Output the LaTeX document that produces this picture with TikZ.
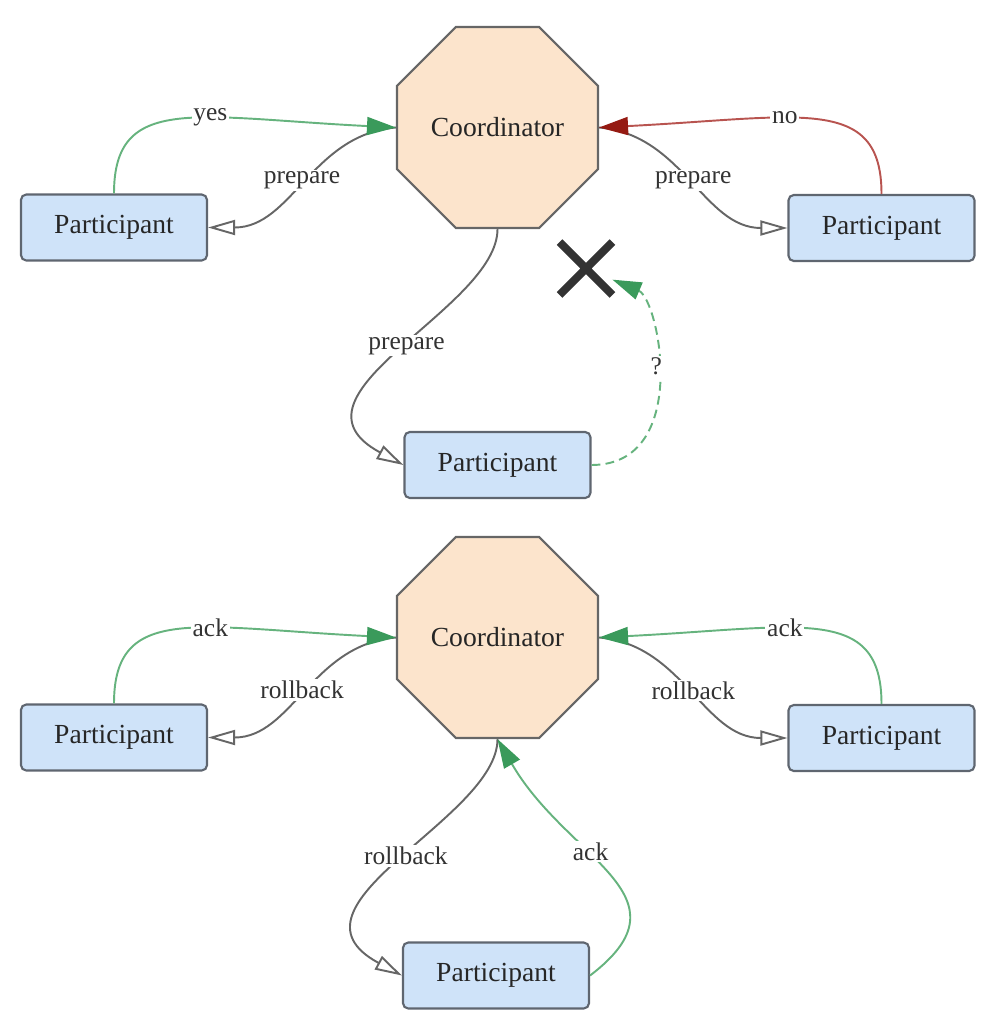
\documentclass[tikz,border=0pt]{standalone}
\usepackage{fontspec}
\setmainfont{Liberation Serif}
\usetikzlibrary{arrows.meta, positioning, shapes.geometric, shapes.misc}

\definecolor{boxfill}{HTML}{CFE3F9}
\definecolor{boxline}{HTML}{5F6670}
\definecolor{octfill}{HTML}{FCE4CC}
\definecolor{edgegray}{HTML}{666666}
\definecolor{okline}{HTML}{66B37E}
\definecolor{okhead}{HTML}{3A9A5B}
\definecolor{noline}{HTML}{B85450}
\definecolor{nohead}{HTML}{951A12}

\begin{document}
\begin{tikzpicture}[
    box/.style={draw=boxline, line width=1.2pt, fill=boxfill, rounded corners=3pt, minimum width=3.72cm, minimum height=1.32cm, text=black!85, font=\fontsize{15.7}{18}\selectfont},
    octa/.style={regular polygon, regular polygon sides=8, draw=edgegray, line width=1.2pt, fill=octfill, minimum size=4.35cm, inner sep=0pt, text=black!85, font=\fontsize{15.7}{18}\selectfont},
    req/.style={draw=edgegray, line width=1.1pt, -{Triangle[open, length=0.54cm, width=0.3cm, fill=white]}},
    ok/.style={draw=okline, line width=1.1pt, -{Triangle[length=0.58cm, width=0.36cm, color=okhead]}},
    nok/.style={draw=noline, line width=1.1pt, -{Triangle[length=0.58cm, width=0.36cm, color=nohead]}},
    textstyle/.style={font=\fontsize{14.5}{17}\selectfont, fill=white, inner sep=1pt, text=black!80}
]
\useasboundingbox (0,0) rectangle (20.04,-20.52);

% Top round
\node[octa] (c1) at (9.95,-2.55) {Coordinator};
\node[box] (pl1) at (2.28,-4.55) {Participant};
\node[box] (pr1) at (17.63,-4.56) {Participant};
\node[box] (pm1) at (9.95,-9.30) {Participant};
\node[cross out, draw=black!80, line width=4.5pt, minimum size=0.9cm, inner sep=0pt] (fail) at (11.72,-5.37) {};
\draw[req] (c1.west) .. controls +(-1.68,-0.14) and +(1.68,0) .. (pl1.east) node[textstyle, pos=0.5] {prepare};
\draw[req] (c1.east) .. controls +(1.68,-0.14) and +(-1.68,0) .. (pr1.west) node[textstyle, pos=0.5] {prepare};
\draw[req] (c1.south) .. controls +(0,-1.6) and +(-2.6,1.4) .. (pm1.west) node[textstyle, pos=0.48] {prepare};
\draw[ok] (pl1.north) .. controls +(0,2.0) and +(-4.0,0.2) .. (c1.west) node[textstyle, pos=0.6] {yes};
\draw[nok] (pr1.north) .. controls +(0,2.0) and +(4.0,0.2) .. (c1.east) node[textstyle, pos=0.6] {no};
\draw[ok, dash pattern=on 5pt off 3pt] (pm1.east) .. controls +(2.0,0) and +(1.47,-0.62) .. (fail) node[textstyle, pos=0.55] {?};

% Bottom round
\node[octa] (c2) at (9.95,-12.75) {Coordinator};
\node[box] (pl2) at (2.28,-14.75) {Participant};
\node[box] (pr2) at (17.63,-14.76) {Participant};
\node[box] (pm2) at (9.92,-19.51) {Participant};
\draw[req] (c2.west) .. controls +(-1.68,-0.14) and +(1.68,0) .. (pl2.east) node[textstyle, pos=0.5] {rollback};
\draw[req] (c2.east) .. controls +(1.68,-0.14) and +(-1.68,0) .. (pr2.west) node[textstyle, pos=0.5] {rollback};
\draw[req] (c2.south) .. controls +(0,-1.6) and +(-2.6,1.4) .. (pm2.west) node[textstyle, pos=0.48] {rollback};
\draw[ok] (pl2.north) .. controls +(0,2.0) and +(-4.0,0.2) .. (c2.west) node[textstyle, pos=0.6] {ack};
\draw[ok] (pr2.north) .. controls +(0,2.0) and +(4.0,0.2) .. (c2.east) node[textstyle, pos=0.6] {ack};
\draw[ok] (pm2.east) .. controls +(2.1,1.6) and +(1.4,-2.42) .. (c2.south) node[textstyle, pos=0.6] {ack};

\end{tikzpicture}
\end{document}
